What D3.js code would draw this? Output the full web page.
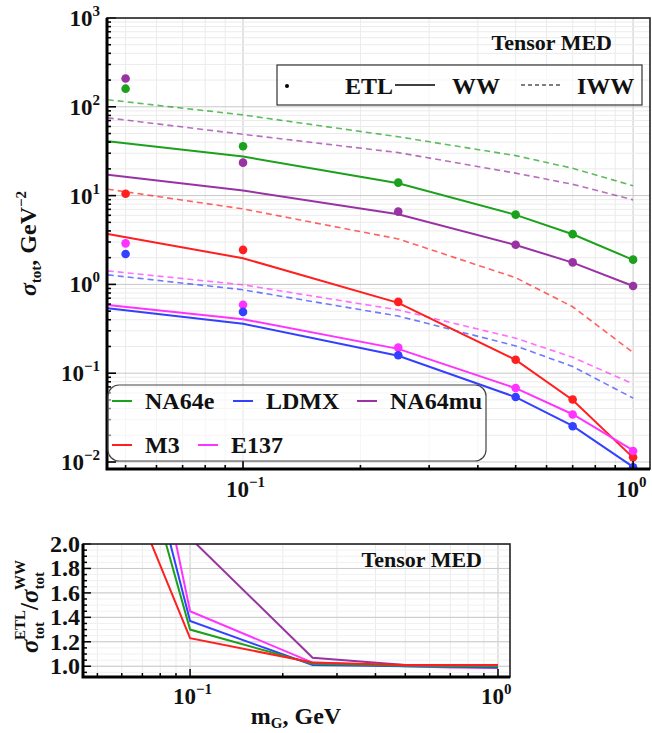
<!DOCTYPE html>
<html>
<head>
<meta charset="utf-8">
<script src="https://cdn.jsdelivr.net/npm/d3@7"></script>
<style>
  body { margin: 0; background: #fff; }
  svg text, svg tspan { font-family: 'Liberation Serif' !important; font-weight: bold; }
</style>
</head>
<body>
<div id="chart"></div>
<script>
// masses (GeV)
const massCurve = [0.045, 0.1, 0.25, 0.5, 0.7, 1.0];
const massETL = [0.05, 0.1, 0.25, 0.5, 0.7, 1.0];

const experiments = ["NA64e", "LDMX", "NA64mu", "M3", "E137"];
const expColors = {
    NA64e: "#1ba11b",
    LDMX: "#3340ff",
    NA64mu: "#9933a3",
    M3: "#ff1f1f",
    E137: "#ff33ff"
};

// sigma_tot, GeV^-2 (WW approximation, solid)
const wwValues = {
    NA64e: [41, 27.5, 13.8, 6.07, 3.67, 1.89],
    LDMX: [0.54, 0.36, 0.157, 0.0537, 0.0255, 0.0088],
    NA64mu: [17.2, 11.4, 6.17, 2.78, 1.76, 0.96],
    M3: [3.7, 1.97, 0.62, 0.141, 0.050, 0.0112],
    E137: [0.587, 0.405, 0.188, 0.0678, 0.0345, 0.0135]
};

// IWW approximation, dashed
const iwwValues = {
    NA64e: [120, 81, 46, 28.2, 20.3, 12.9],
    LDMX: [1.28, 0.87, 0.44, 0.203, 0.119, 0.0524],
    NA64mu: [75, 49, 30.5, 17.9, 13.4, 8.95],
    M3: [11.8, 7.08, 3.25, 1.19, 0.56, 0.171],
    E137: [1.42, 0.99, 0.516, 0.248, 0.151, 0.0758]
};

// exact tree level, dots
const etlValues = {
    NA64e: [160, 36, 14.0, 6.1, 3.68, 1.9],
    LDMX: [2.2, 0.49, 0.159, 0.054, 0.0253, 0.0087],
    NA64mu: [208, 23.5, 6.6, 2.8, 1.77, 0.96],
    M3: [10.5, 2.45, 0.635, 0.142, 0.0505, 0.0113],
    E137: [2.9, 0.59, 0.194, 0.068, 0.0343, 0.0133]
};

// ETL / WW ratio
const ratioValues = {
    NA64e: [4.0, 1.30, 1.02, 1.005, 1.0, 1.0],
    LDMX: [4.33, 1.37, 1.01, 1.0, 0.995, 0.99],
    NA64mu: [12.6, 2.05, 1.07, 1.01, 1.005, 1.0],
    M3: [3.08, 1.23, 1.03, 1.01, 1.01, 1.01],
    E137: [5.1, 1.45, 1.03, 1.0, 0.99, 0.985]
};

const drawOrder = ["NA64mu", "NA64e", "M3", "E137", "LDMX"];
const ratioOrder = ["NA64mu", "E137", "LDMX", "NA64e", "M3"];

const yTickExps = [-2, -1, 0, 1, 2, 3];
const ratioTicks = [1.0, 1.2, 1.4, 1.6, 1.8, 2.0];

const width = 652, height = 733;
const svg = d3.select("#chart").append("svg")
    .attr("width", width).attr("height", height);

const pTop = { left: 107, right: 650, top: 18, bottom: 469 };
const pBot = { left: 83, right: 510, top: 544, bottom: 677 };

const x = d3.scaleLog().domain([0.0448, 1.105]).range([pTop.left, pTop.right]);
const y = d3.scaleLog().domain([0.00834, 1000]).range([pTop.bottom, pTop.top]);
const x2 = d3.scaleLog().domain([0.0449, 1.094]).range([pBot.left, pBot.right]);
const y2 = d3.scaleLinear().domain([0.912, 2.0]).range([pBot.bottom, pBot.top]);

const minorX = [];
[0.01, 0.1].forEach(d => { for (let k = 1; k <= 9; k++) minorX.push(d * k); });
minorX.push(1);

const isDecade = v => Math.abs(Math.log10(v) - Math.round(Math.log10(v))) < 1e-6;

const defs = svg.append("defs");
defs.append("clipPath").attr("id", "clipTop").append("rect")
    .attr("x", pTop.left).attr("y", pTop.top)
    .attr("width", pTop.right - pTop.left).attr("height", pTop.bottom - pTop.top);
defs.append("clipPath").attr("id", "clipBot").append("rect")
    .attr("x", pBot.left).attr("y", pBot.top)
    .attr("width", pBot.right - pBot.left).attr("height", pBot.bottom - pBot.top);

function powLabel(g, px, py, e) {
    const t = g.append("text")
        .attr("x", px).attr("y", py)
        .attr("font-size", 23);
    t.append("tspan").text("10");
    t.append("tspan").attr("dy", -10).attr("font-size", 15)
        .text(e < 0 ? "\u2212" + (-e) : String(e));
    return t;
}

// ---------- top panel ----------
function drawTop() {
    const g = svg.append("g");
    const grid = g.append("g").attr("clip-path", "url(#clipTop)");

    const xs = minorX.filter(v => v >= x.domain()[0] && v <= x.domain()[1]);
    grid.selectAll(".gx").data(xs).join("line")
        .attr("x1", d => x(d)).attr("x2", d => x(d))
        .attr("y1", pTop.top).attr("y2", pTop.bottom)
        .attr("stroke", d => (isDecade(d) ? "#c8c8c8" : "#ebebeb"))
        .attr("stroke-width", 1);

    const ys = [];
    yTickExps.forEach(e => { for (let k = 1; k <= 9; k++) ys.push(k * Math.pow(10, e)); });
    const ysIn = ys.filter(v => v >= y.domain()[0] && v <= y.domain()[1]);
    grid.selectAll(".gy").data(ysIn).join("line")
        .attr("x1", pTop.left).attr("x2", pTop.right)
        .attr("y1", d => y(d)).attr("y2", d => y(d))
        .attr("stroke", d => (isDecade(d) ? "#c8c8c8" : "#ebebeb"))
        .attr("stroke-width", 1);

    const plot = g.append("g").attr("clip-path", "url(#clipTop)");
    const line = d3.line().x(d => x(d[0])).y(d => y(d[1]));

    drawOrder.forEach(name => {
        plot.append("path")
            .datum(massCurve.map((m, i) => [m, iwwValues[name][i]]))
            .attr("d", line)
            .attr("fill", "none")
            .attr("stroke", expColors[name])
            .attr("stroke-opacity", 0.7)
            .attr("stroke-width", 1.6)
            .attr("stroke-dasharray", "6,4");
    });
    drawOrder.forEach(name => {
        plot.append("path")
            .datum(massCurve.map((m, i) => [m, wwValues[name][i]]))
            .attr("d", line)
            .attr("fill", "none")
            .attr("stroke", expColors[name])
            .attr("stroke-width", 2);
    });
    drawOrder.forEach(name => {
        plot.selectAll(null)
            .data(massETL.map((m, i) => [m, etlValues[name][i]]))
            .join("circle")
            .attr("cx", d => x(d[0])).attr("cy", d => y(d[1]))
            .attr("r", 4.3)
            .attr("fill", expColors[name]);
    });

    // ticks (inward)
    g.selectAll(".ty").data(ysIn).join("line")
        .attr("x1", pTop.left).attr("y1", d => y(d)).attr("y2", d => y(d))
        .attr("x2", d => pTop.left + (isDecade(d) ? 9 : 4))
        .attr("stroke", "#000").attr("stroke-width", 1.6);
    g.selectAll(".tx").data(xs).join("line")
        .attr("x1", d => x(d)).attr("x2", d => x(d)).attr("y1", pTop.bottom)
        .attr("y2", d => pTop.bottom - (isDecade(d) ? 8 : 4))
        .attr("stroke", "#000").attr("stroke-width", 1.6);

    // frame
    g.append("rect")
        .attr("x", pTop.left).attr("y", pTop.top)
        .attr("width", pTop.right - pTop.left).attr("height", pTop.bottom - pTop.top)
        .attr("fill", "none").attr("stroke", "#222").attr("stroke-width", 1.6);
    g.append("path")
        .attr("d", `M${pTop.left},${pTop.top}V${pTop.bottom}H${pTop.right}`)
        .attr("fill", "none").attr("stroke", "#000").attr("stroke-width", 3);

    yTickExps.forEach(e => {
        powLabel(g, pTop.left - 7, y(Math.pow(10, e)) + 8, e).attr("text-anchor", "end");
    });
    [-1, 0].forEach(e => {
        powLabel(g, x(Math.pow(10, e)) - 17, pTop.bottom + 28, e);
    });

    // y axis title
    const yt = g.append("text")
        .attr("transform", `translate(36,${(pTop.top + pTop.bottom) / 2}) rotate(-90)`)
        .attr("text-anchor", "middle").attr("font-size", 24);
    yt.append("tspan").attr("font-style", "italic").text("\u03c3");
    yt.append("tspan").attr("dy", 5).attr("font-size", 15).text("tot");
    yt.append("tspan").attr("dy", -5).text(", GeV");
    yt.append("tspan").attr("dy", -10).attr("font-size", 15).text("\u22122");

    g.append("text").attr("x", 612).attr("y", 50)
        .attr("text-anchor", "end").attr("font-size", 22).text("Tensor MED");

    // style legend
    const lg = g.append("g");
    lg.append("rect").attr("x", 277).attr("y", 65).attr("width", 365).attr("height", 40)
        .attr("fill", "#fff").attr("fill-opacity", 0.6)
        .attr("stroke", "#333").attr("stroke-width", 1.2);
    lg.append("circle").attr("cx", 287).attr("cy", 86).attr("r", 2).attr("fill", "#000");
    lg.append("text").attr("x", 345).attr("y", 94).attr("font-size", 24).text("ETL");
    lg.append("line").attr("x1", 395).attr("x2", 435).attr("y1", 85).attr("y2", 85)
        .attr("stroke", "#000").attr("stroke-width", 1.3);
    lg.append("text").attr("x", 452).attr("y", 94).attr("font-size", 24).text("WW");
    lg.append("line").attr("x1", 521).attr("x2", 561).attr("y1", 85).attr("y2", 85)
        .attr("stroke", "#000").attr("stroke-width", 1.1).attr("stroke-dasharray", "4,3");
    lg.append("text").attr("x", 577).attr("y", 94).attr("font-size", 24).text("IWW");

    // experiments legend
    const el = g.append("g");
    el.append("rect").attr("x", 108).attr("y", 385).attr("width", 378).attr("height", 76)
        .attr("rx", 11).attr("ry", 11)
        .attr("fill", "#fff").attr("fill-opacity", 0.55)
        .attr("stroke", "#444").attr("stroke-width", 1.2);
    const pos = {
        NA64e: [112, 401], LDMX: [233, 401], NA64mu: [357, 401],
        M3: [112, 445], E137: [198, 445]
    };
    experiments.forEach(name => {
        const [px, py] = pos[name];
        el.append("line").attr("x1", px).attr("x2", px + 20).attr("y1", py).attr("y2", py)
            .attr("stroke", expColors[name]).attr("stroke-width", 2);
        el.append("text").attr("x", px + 33).attr("y", py + 8)
            .attr("font-size", 24).text(name);
    });
}

// ---------- ratio panel ----------
function drawBottom() {
    const g = svg.append("g");
    const grid = g.append("g").attr("clip-path", "url(#clipBot)");
    const xs = minorX.filter(v => v >= x2.domain()[0] && v <= x2.domain()[1]);
    grid.selectAll(".gx").data(xs).join("line")
        .attr("x1", d => x2(d)).attr("x2", d => x2(d))
        .attr("y1", pBot.top).attr("y2", pBot.bottom)
        .attr("stroke", d => (isDecade(d) ? "#c8c8c8" : "#ebebeb"));
    const minorY = d3.range(0.95, 2.0001, 0.05);
    grid.selectAll(".gy").data(minorY).join("line")
        .attr("x1", pBot.left).attr("x2", pBot.right)
        .attr("y1", d => y2(d)).attr("y2", d => y2(d))
        .attr("stroke", "#f0f0f0");
    grid.selectAll(".gy2").data(ratioTicks).join("line")
        .attr("x1", pBot.left).attr("x2", pBot.right)
        .attr("y1", d => y2(d)).attr("y2", d => y2(d))
        .attr("stroke", "#c8c8c8");

    const plot = g.append("g").attr("clip-path", "url(#clipBot)");
    const line = d3.line().x(d => x2(d[0])).y(d => y2(d[1]));
    ratioOrder.forEach(name => {
        plot.append("path")
            .datum(massETL.map((m, i) => [m, ratioValues[name][i]]))
            .attr("d", line)
            .attr("fill", "none")
            .attr("stroke", expColors[name])
            .attr("stroke-width", 2);
    });

    g.selectAll(".ty").data(minorY).join("line")
        .attr("x1", pBot.left).attr("y1", d => y2(d)).attr("y2", d => y2(d))
        .attr("x2", d => pBot.left + (ratioTicks.some(t => Math.abs(t - d) < 1e-6) ? 8 : 4))
        .attr("stroke", "#000").attr("stroke-width", 1.5);
    g.selectAll(".tx").data(xs).join("line")
        .attr("x1", d => x2(d)).attr("x2", d => x2(d)).attr("y1", pBot.bottom)
        .attr("y2", d => pBot.bottom - (isDecade(d) ? 8 : 4))
        .attr("stroke", "#000").attr("stroke-width", 1.5);

    g.append("rect")
        .attr("x", pBot.left).attr("y", pBot.top)
        .attr("width", pBot.right - pBot.left).attr("height", pBot.bottom - pBot.top)
        .attr("fill", "none").attr("stroke", "#222").attr("stroke-width", 1.6);
    g.append("path")
        .attr("d", `M${pBot.left},${pBot.top}V${pBot.bottom}H${pBot.right}`)
        .attr("fill", "none").attr("stroke", "#000").attr("stroke-width", 3);

    ratioTicks.forEach(v => {
        g.append("text").attr("x", pBot.left - 3).attr("y", y2(v) + 8)
            .attr("text-anchor", "end").attr("font-size", 24).text(v.toFixed(1));
    });
    [-1, 0].forEach(e => {
        powLabel(g, x2(Math.pow(10, e)) - 17, pBot.bottom + 27, e);
    });

    const xt = g.append("text").attr("x", 296).attr("y", 724)
        .attr("text-anchor", "middle").attr("font-size", 24);
    xt.append("tspan").text("m");
    xt.append("tspan").attr("dy", 4).attr("font-size", 15).text("G");
    xt.append("tspan").attr("dy", -4).text(", GeV");

    const yt = g.append("text")
        .attr("transform", `translate(38,${(pBot.top + pBot.bottom) / 2 - 4}) rotate(-90)`)
        .attr("text-anchor", "middle").attr("font-size", 25);
    yt.append("tspan").attr("font-style", "italic").text("\u03c3");
    yt.append("tspan").attr("font-size", 15).attr("dy", 6).text("tot");
    yt.append("tspan").attr("font-size", 15).attr("dx", -18).attr("dy", -19).text("ETL");
    yt.append("tspan").attr("dy", 13).text("/");
    yt.append("tspan").attr("font-style", "italic").text("\u03c3");
    yt.append("tspan").attr("font-size", 15).attr("dy", 6).text("tot");
    yt.append("tspan").attr("font-size", 15).attr("dx", -18).attr("dy", -19).text("WW");

    g.append("text").attr("x", 482).attr("y", 567)
        .attr("text-anchor", "end").attr("font-size", 22).text("Tensor MED");
}

drawTop();
drawBottom();

svg.selectAll("text")
    .attr("font-family", "Liberation Serif")
    .attr("font-weight", "bold")
    .attr("fill", "#111")
    .style("font-family", "'Liberation Serif'");
</script>
</body>
</html>
